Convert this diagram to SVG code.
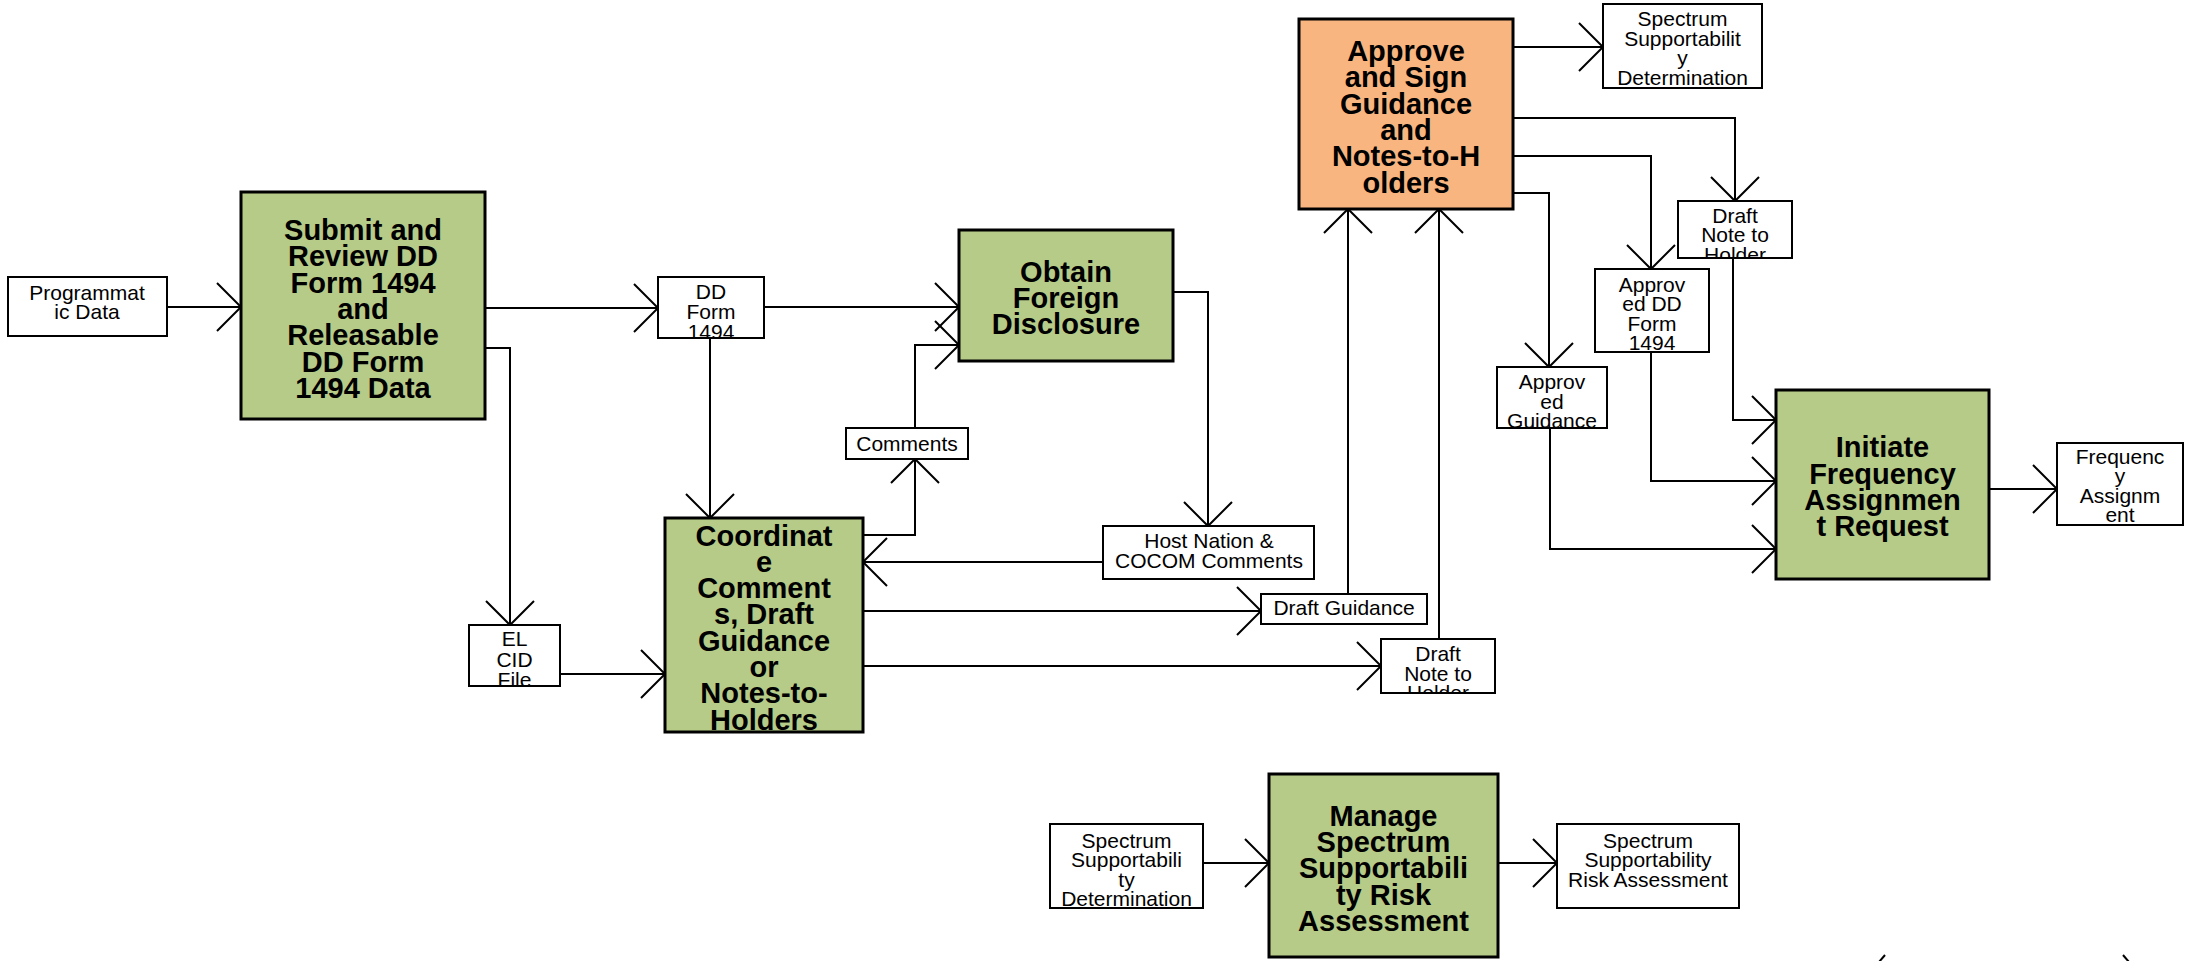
<svg xmlns="http://www.w3.org/2000/svg" width="2185" height="961" viewBox="0 0 2185 961">
<style>
.bg{fill:#ffffff}
.pbox{stroke:#000;stroke-width:3}
.green{fill:#b6cb88}
.orange{fill:#f8b57f}
.dbox{fill:#fff;stroke:#000;stroke-width:2}
.bt{font-family:"Liberation Sans",Arial,sans-serif;font-weight:bold;font-size:29px;fill:#000;text-anchor:middle}
.st{font-family:"Liberation Sans",Arial,sans-serif;font-size:21px;fill:#000;text-anchor:middle}
.conn path{fill:none;stroke:#000;stroke-width:2;marker-end:url(#arr)}
.tick{stroke:#000;stroke-width:2}
</style>
<defs>
<marker id="arr" markerUnits="userSpaceOnUse" viewBox="-2 -2 30 52" markerWidth="30" markerHeight="52" refX="24" refY="24" orient="auto">
<path d="M0,0 L24,24 L0,48" fill="none" stroke="#000" stroke-width="2"/>
</marker>
<clipPath id="cpProg"><rect x="8" y="277" width="159" height="59"/></clipPath>
<clipPath id="cpDD"><rect x="658" y="277" width="106" height="61"/></clipPath>
<clipPath id="cpEL"><rect x="469" y="625" width="91" height="61"/></clipPath>
<clipPath id="cpCoord"><rect x="665" y="518" width="198" height="214"/></clipPath>
<clipPath id="cpDNB"><rect x="1381" y="639" width="114" height="54"/></clipPath>
<clipPath id="cpSSDT"><rect x="1603" y="4" width="159" height="84"/></clipPath>
<clipPath id="cpDNT"><rect x="1678" y="201" width="114" height="57"/></clipPath>
<clipPath id="cpADD"><rect x="1595" y="269" width="114" height="83"/></clipPath>
<clipPath id="cpAG"><rect x="1497" y="367" width="110" height="61"/></clipPath>
<clipPath id="cpFA"><rect x="2057" y="443" width="126" height="82"/></clipPath>
<clipPath id="cpSSDB"><rect x="1050" y="824" width="153" height="84"/></clipPath>
</defs>
<rect class="bg" x="0" y="0" width="2185" height="961"/>

<g id="connectors" class="conn">
<path d="M167,307 H241"/>
<path d="M485,308 H658"/>
<path d="M485,348 H510 V625"/>
<path d="M560,674 H665"/>
<path d="M710,338 V518"/>
<path d="M764,307 H959"/>
<path d="M863,535 H915 V459"/>
<path d="M915,428 V345 H959"/>
<path d="M1173,292 H1208 V526"/>
<path d="M1103,562 H863"/>
<path d="M863,611 H1261"/>
<path d="M863,666 H1381"/>
<path d="M1348,594 V209"/>
<path d="M1439,639 V209"/>
<path d="M1513,47 H1603"/>
<path d="M1513,118 H1735 V201"/>
<path d="M1513,156 H1651 V269"/>
<path d="M1513,193 H1549 V367"/>
<path d="M1733,258 V420 H1776"/>
<path d="M1651,352 V481 H1776"/>
<path d="M1550,428 V549 H1776"/>
<path d="M1989,489 H2057"/>
<path d="M1203,863 H1269"/>
<path d="M1498,863 H1557"/>
</g>

<g id="programmatic-data">
<rect class="dbox" x="8" y="277" width="159" height="59"/>
<text class="st" clip-path="url(#cpProg)"><tspan x="87" y="300">Programmat</tspan><tspan x="87" y="319">ic Data</tspan></text>
</g>

<g id="submit-review">
<rect class="pbox green" x="241" y="192" width="244" height="227"/>
<text class="bt"><tspan x="363" y="240">Submit and</tspan><tspan x="363" y="266.3">Review DD</tspan><tspan x="363" y="292.6">Form 1494</tspan><tspan x="363" y="318.9">and</tspan><tspan x="363" y="345.2">Releasable</tspan><tspan x="363" y="371.5">DD Form</tspan><tspan x="363" y="397.8">1494 Data</tspan></text>
</g>

<g id="dd-form-1494">
<rect class="dbox" x="658" y="277" width="106" height="61"/>
<text class="st" clip-path="url(#cpDD)"><tspan x="711" y="299">DD</tspan><tspan x="711" y="319">Form</tspan><tspan x="711" y="339">1494</tspan></text>
</g>

<g id="el-cid-file">
<rect class="dbox" x="469" y="625" width="91" height="61"/>
<text class="st" clip-path="url(#cpEL)"><tspan x="514.5" y="646">EL</tspan><tspan x="514.5" y="666.5">CID</tspan><tspan x="514.5" y="687">File</tspan></text>
</g>

<g id="obtain-foreign-disclosure">
<rect class="pbox green" x="959" y="230" width="214" height="131"/>
<text class="bt"><tspan x="1066" y="281.7">Obtain</tspan><tspan x="1066" y="308">Foreign</tspan><tspan x="1066" y="334.3">Disclosure</tspan></text>
</g>

<g id="comments">
<rect class="dbox" x="846" y="428" width="122" height="31"/>
<text class="st"><tspan x="907" y="451">Comments</tspan></text>
</g>

<g id="coordinate-comments">
<rect class="pbox green" x="665" y="518" width="198" height="214"/>
<text class="bt" clip-path="url(#cpCoord)"><tspan x="764" y="545.5">Coordinat</tspan><tspan x="764" y="571.8">e</tspan><tspan x="764" y="598.1">Comment</tspan><tspan x="764" y="624.4">s, Draft</tspan><tspan x="764" y="650.7">Guidance</tspan><tspan x="764" y="677">or</tspan><tspan x="764" y="703.3">Notes-to-</tspan><tspan x="764" y="729.6">Holders</tspan></text>
</g>

<g id="host-nation-comments">
<rect class="dbox" x="1103" y="526" width="211" height="53"/>
<text class="st"><tspan x="1209" y="548">Host Nation &amp;</tspan><tspan x="1209" y="567.5">COCOM Comments</tspan></text>
</g>

<g id="draft-guidance">
<rect class="dbox" x="1261" y="594" width="166" height="30"/>
<text class="st"><tspan x="1344" y="615">Draft Guidance</tspan></text>
</g>

<g id="draft-note-bottom">
<rect class="dbox" x="1381" y="639" width="114" height="54"/>
<text class="st" clip-path="url(#cpDNB)"><tspan x="1438" y="661">Draft</tspan><tspan x="1438" y="680.5">Note to</tspan><tspan x="1438" y="700">Holder</tspan></text>
</g>

<g id="approve-sign">
<rect class="pbox orange" x="1299" y="19" width="214" height="190"/>
<text class="bt"><tspan x="1406" y="61">Approve</tspan><tspan x="1406" y="87.3">and Sign</tspan><tspan x="1406" y="113.6">Guidance</tspan><tspan x="1406" y="139.9">and</tspan><tspan x="1406" y="166.2">Notes-to-H</tspan><tspan x="1406" y="192.5">olders</tspan></text>
</g>

<g id="spectrum-supportability-determination-top">
<rect class="dbox" x="1603" y="4" width="159" height="84"/>
<text class="st" clip-path="url(#cpSSDT)"><tspan x="1682.5" y="26">Spectrum</tspan><tspan x="1682.5" y="45.5">Supportabilit</tspan><tspan x="1682.5" y="65">y</tspan><tspan x="1682.5" y="84.5">Determination</tspan></text>
</g>

<g id="draft-note-top">
<rect class="dbox" x="1678" y="201" width="114" height="57"/>
<text class="st" clip-path="url(#cpDNT)"><tspan x="1735" y="222.5">Draft</tspan><tspan x="1735" y="242">Note to</tspan><tspan x="1735" y="261.5">Holder</tspan></text>
</g>

<g id="approved-dd-form">
<rect class="dbox" x="1595" y="269" width="114" height="83"/>
<text class="st" clip-path="url(#cpADD)"><tspan x="1652" y="291.5">Approv</tspan><tspan x="1652" y="311">ed DD</tspan><tspan x="1652" y="330.5">Form</tspan><tspan x="1652" y="350">1494</tspan></text>
</g>

<g id="approved-guidance">
<rect class="dbox" x="1497" y="367" width="110" height="61"/>
<text class="st" clip-path="url(#cpAG)"><tspan x="1552" y="389">Approv</tspan><tspan x="1552" y="408.5">ed</tspan><tspan x="1552" y="428">Guidance</tspan></text>
</g>

<g id="initiate-frequency">
<rect class="pbox green" x="1776" y="390" width="213" height="189"/>
<text class="bt"><tspan x="1882.5" y="457.3">Initiate</tspan><tspan x="1882.5" y="483.6">Frequency</tspan><tspan x="1882.5" y="509.9">Assignmen</tspan><tspan x="1882.5" y="536.2">t Request</tspan></text>
</g>

<g id="frequency-assignment">
<rect class="dbox" x="2057" y="443" width="126" height="82"/>
<text class="st" clip-path="url(#cpFA)"><tspan x="2120" y="463.5">Frequenc</tspan><tspan x="2120" y="483">y</tspan><tspan x="2120" y="502.5">Assignm</tspan><tspan x="2120" y="522">ent</tspan></text>
</g>

<g id="spectrum-supportability-determination-bottom">
<rect class="dbox" x="1050" y="824" width="153" height="84"/>
<text class="st" clip-path="url(#cpSSDB)"><tspan x="1126.5" y="847.5">Spectrum</tspan><tspan x="1126.5" y="867">Supportabili</tspan><tspan x="1126.5" y="886.5">ty</tspan><tspan x="1126.5" y="906">Determination</tspan></text>
</g>

<g id="manage-risk">
<rect class="pbox green" x="1269" y="774" width="229" height="183"/>
<text class="bt"><tspan x="1383.5" y="825.7">Manage</tspan><tspan x="1383.5" y="852">Spectrum</tspan><tspan x="1383.5" y="878.3">Supportabili</tspan><tspan x="1383.5" y="904.6">ty Risk</tspan><tspan x="1383.5" y="930.9">Assessment</tspan></text>
</g>

<g id="risk-assessment">
<rect class="dbox" x="1557" y="824" width="182" height="84"/>
<text class="st"><tspan x="1648" y="847.5">Spectrum</tspan><tspan x="1648" y="867">Supportability</tspan><tspan x="1648" y="886.5">Risk Assessment</tspan></text>
</g>

<line class="tick" x1="1879" y1="962" x2="1885" y2="955"/>
<line class="tick" x1="2123" y1="955" x2="2129" y2="962"/>
</svg>
